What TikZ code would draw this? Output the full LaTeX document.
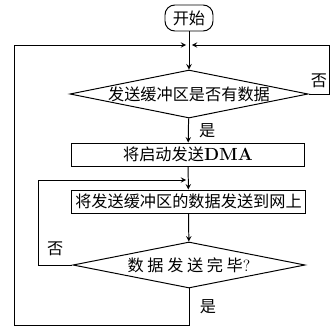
\documentclass[tikz,border=0pt]{standalone}
\usepackage{fontspec}
\newfontfamily\cjk{Noto Sans CJK SC}
\usetikzlibrary{shapes.geometric}

\begin{document}
\begin{tikzpicture}[x = 0.025cm, y = -0.025cm, >= stealth, line width = 0.7pt,
    font = \cjk\fontsize{11.5}{13}\selectfont,
    startbox/.style = {draw, rounded corners = 7pt, minimum width = 1.2cm, minimum height = 0.65cm, inner sep = 0pt},
    process/.style = {draw, minimum width = 5.8cm, minimum height = 0.575cm, inner sep = 0pt},
    decision/.style = {draw, diamond, aspect = 5, inner sep = 0pt, minimum height = 1.15cm}]
        \useasboundingbox (0, 0) rectangle (331, 331);
        \node[startbox] (start) at (189, 18) {开始};
        \node[decision, minimum width = 5.95cm, minimum height = 1.2cm] (check) at (189, 94) {发送缓冲区是否有数据};
        \node[process] (dma) at (188, 154.5) {将启动发送{\rmfamily\bfseries\fontsize{12.5}{13}\selectfont DMA}};
        \node[process, minimum width = 5.825cm] (send) at (188.5, 201.5) {将发送缓冲区的数据发送到网上};
        \node[decision, minimum width = 5.8cm] (done) at (189, 265) {数 据 发 送 完 毕{\rmfamily ?}};
        \coordinate (top) at (189, 45);
        \coordinate (loop) at (189, 180);
        \coordinate (rside) at (329.5, 45);
        \coordinate (lside) at (14, 45);
        \coordinate (lloop) at (38, 180);
        \coordinate (bot) at (189, 325);
        \draw[->] (start) -- (check);
        \draw[->] (check) -- node[right = 4pt]{是} (dma);
        \draw[->] (dma) -- (send);
        \draw[->] (send) -- (done);
        \draw[->, shorten >= 2pt] (check.east) -- node[above = 1pt]{否} (check.east -| rside) -- (rside) -- (top);
        \draw[->, shorten >= 2pt] (done.west) -- node[above = 3pt]{否} (done.west -| lloop) -- (lloop) -- (loop);
        \draw[->, shorten >= 2pt] (done) -- node[right = 4pt]{是} (bot) -| (lside) -- (top);
      \end{tikzpicture}
\end{document}
